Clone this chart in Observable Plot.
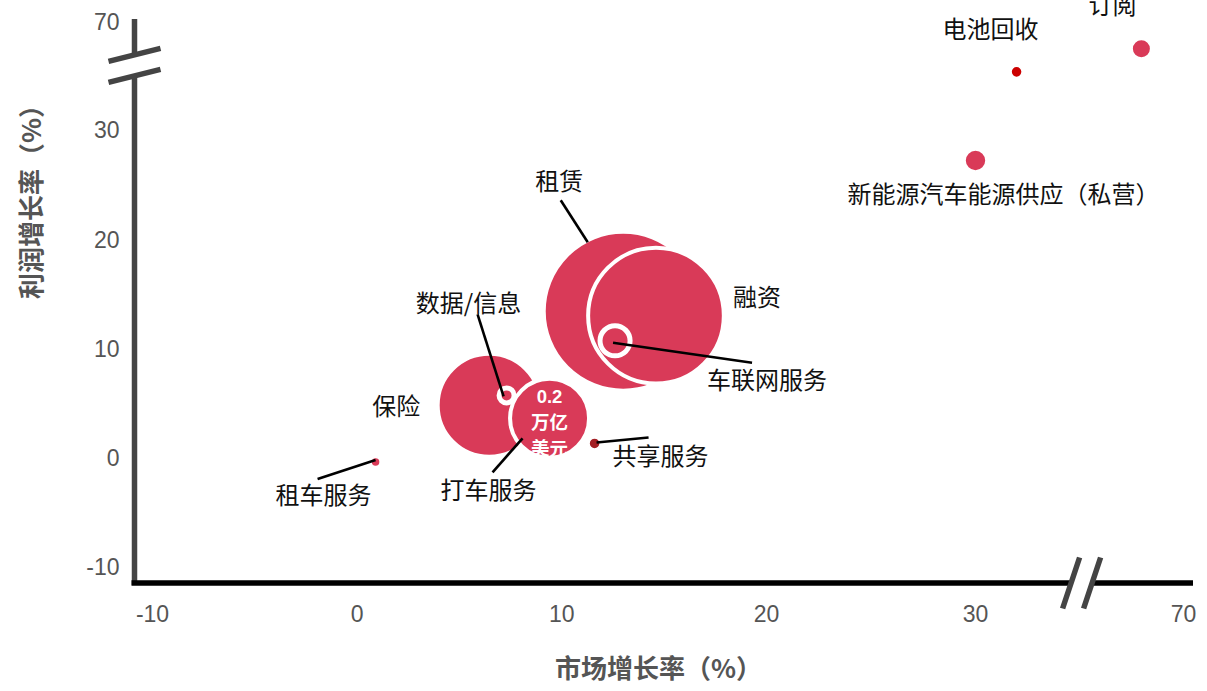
<!DOCTYPE html>
<html>
<head>
<meta charset="utf-8">
<script src="https://cdn.jsdelivr.net/npm/d3@7"></script>
<script src="https://cdn.jsdelivr.net/npm/@observablehq/plot@0.6"></script>
<style>
  body { margin: 0; background: #fff; }
  #chart svg { display: block; }
</style>
</head>
<body>
<div id="chart"></div>
<script>
// ---------------- data ----------------
const names = ["租赁", "融资", "保险", "打车服务", "车联网服务", "数据/信息", "共享服务", "租车服务", "电池回收", "订阅", "新能源汽车能源供应（私营）"];
const marketGrowth = [13.0, 14.6, 6.45, 9.4, 12.6, 7.3, 11.6, 0.9, 37.9, 61.9, 30.0];   // 市场增长率 %
const profitGrowth = [13.5, 13.1, 4.9, 3.7, 10.8, 5.8, 1.4, -0.3, 51.8, 60.3, 27.3];    // 利润增长率 %
const marketSize   = [0.81, 0.59, 0.34, 0.2, 0.029, 0.0072, 0.0039, 0.0026, 0.0039, 0.011, 0.014]; // 万亿美元
const xTicks = [-10, 0, 10, 20, 30, 70];
const yTicks = [-10, 0, 10, 20, 30, 70];
const sizeLegendValue = 0.2;
const sizeLegendText = "0.2\n万亿\n美元";
const xTitle = "市场增长率（%）";
const yTitle = "利润增长率（%）";

// ---------------- styles / layout ----------------
const RED = "#d93a58";
const fillOverride = {"共享服务": "#a31f24", "电池回收": "#cc0000"};
const strokeW = {"租赁": 4, "融资": 4, "保险": 4, "打车服务": 4, "车联网服务": 5, "数据/信息": 5};
// label offsets (px) relative to bubble centre, optional leader line [x1,y1,x2,y2] in px offsets
const labelLayout = {
  "租赁": {dx: -64, dy: -129, leader: [-62.5, -111, -35.5, -69]},
  "融资": {dx: 101, dy: -17},
  "保险": {dx: -93, dy: 2},
  "打车服务": {dx: -61, dy: 73, leader: [-57, 54, -27, 20]},
  "车联网服务": {dx: 152, dy: 41, leader: [-2, 2, 137, 22]},
  "数据/信息": {dx: -38, dy: -91, leader: [-29, -81, -3, 1]},
  "共享服务": {dx: 66, dy: 14, leader: [2, -1, 54, -6]},
  "租车服务": {dx: -52, dy: 34, leader: [-58, 17, 0, -2]},
  "电池回收": {dx: -26, dy: -42},
  "订阅": {dx: -29, dy: -42},
  "新能源汽车能源供应（私营）": {dx: 28, dy: 35}
};

const W = 1207, H = 691;
const xScale = {type: "linear", domain: [-10, 20, 30, 70], range: [152, 766, 975, 1183]};
const yScale = {type: "linear", domain: [-10, 30, 70], range: [567.5, 130.5, 22]};
const rScale = {type: "sqrt", domain: [0, sizeLegendValue], range: [0, 39.5]};

const xs = Plot.scale({x: xScale});
const ys = Plot.scale({y: yScale});
const offX = (v, d) => xs.invert(xs.apply(v) + d);
const offY = (v, d) => ys.invert(ys.apply(v) + d);

const rows = names.map((name, i) => ({name, x: marketGrowth[i], y: profitGrowth[i], size: marketSize[i]}));
const labelRows = rows.map(d => ({name: d.name, x: offX(d.x, labelLayout[d.name].dx), y: offY(d.y, labelLayout[d.name].dy)}));
const leaderRows = rows.filter(d => labelLayout[d.name].leader).map(d => {
  const [a, b, c, e] = labelLayout[d.name].leader;
  return {x1: offX(d.x, a), y1: offY(d.y, b), x2: offX(d.x, c), y2: offY(d.y, e)};
});
const legendRow = rows.filter(d => d.size === sizeLegendValue);

// axis lines with break marks
function axisLines(index, scales, values, dims) {
  const g = d3.create("svg:g");
  const x0 = dims.marginLeft, y0 = dims.height - dims.marginBottom;
  const xr = dims.width - dims.marginRight, yt = dims.marginTop;
  const bx = scales.x(50.5), by = scales.y(54);
  const gap = 10.5;
  // y axis (dark gray)
  g.append("path").attr("d", `M${x0},${yt}V${by - gap}M${x0},${by + gap}V${y0 + 2}`)
    .attr("stroke", "#444").attr("stroke-width", 5.5).attr("fill", "none");
  g.append("path").attr("d", `M${x0 - 26},${by - gap + 6.5}L${x0 + 26},${by - gap - 6.5}M${x0 - 26},${by + gap + 6.5}L${x0 + 26},${by + gap - 6.5}`)
    .attr("stroke", "#444").attr("stroke-width", 5.5).attr("fill", "none");
  // x axis (black)
  g.append("path").attr("d", `M${x0 - 3},${y0}H${bx - gap}M${bx + gap},${y0}H${xr}`)
    .attr("stroke", "#000").attr("stroke-width", 5.3).attr("fill", "none");
  g.append("path").attr("d", `M${bx - gap - 8.5},${y0 + 25.5}L${bx - gap + 8.5},${y0 - 25.5}M${bx + gap - 8.5},${y0 + 25.5}L${bx + gap + 8.5},${y0 - 25.5}`)
    .attr("stroke", "#444").attr("stroke-width", 5.5).attr("fill", "none");
  return g.node();
}

const chart = Plot.plot({
  width: W,
  height: H,
  marginLeft: 134.5,
  marginRight: 14,
  marginTop: 19,
  marginBottom: 108,
  x: {...xScale, label: null},
  y: {...yScale, label: null},
  r: rScale,
  color: {type: "identity"},
  style: {fontFamily: "'Liberation Sans', 'Noto Sans CJK SC', sans-serif", color: "#555", background: "#fff", overflow: "visible"},
  marks: [
    Plot.axisX({ticks: xTicks, tickSize: 0, tickPadding: 22, fontSize: 23, tickFormat: d => String(d), label: null}),
    Plot.axisY({ticks: yTicks, tickSize: 0, tickPadding: 15.5, fontSize: 23, tickFormat: d => String(d), label: null}),
    axisLines,
    Plot.dot(rows, {
      x: "x", y: "y", r: "size",
      fill: d => fillOverride[d.name] || RED,
      stroke: "#fff",
      strokeWidth: d => strokeW[d.name] || 1.5
    }),
    Plot.link(leaderRows, {x1: "x1", y1: "y1", x2: "x2", y2: "y2", stroke: "#000", strokeWidth: 2.6}),
    Plot.text(legendRow, {
      x: "x", y: "y", text: () => sizeLegendText, dy: 2,
      fill: "#fff", fontWeight: "bold", fontSize: 18.5, lineHeight: 1.4,
      fontFamily: "'Liberation Sans', 'Noto Sans CJK SC', sans-serif"
    }),
    Plot.text(labelRows, {
      x: "x", y: "y", text: "name",
      fill: "#111", fontSize: 24, fontFamily: "'Noto Sans CJK SC', sans-serif"
    }),
    Plot.text([xTitle], {
      frameAnchor: "bottom-left", textAnchor: "middle", dx: 658 - 134.5, dy: 94, text: d => d,
      fill: "#555", fontWeight: "bold", fontSize: 26, fontFamily: "'Noto Sans CJK SC', sans-serif"
    }),
    Plot.text([yTitle], {
      frameAnchor: "top-left", textAnchor: "middle", dx: 22 - 134.5, dy: 195 - 19, rotate: -90, text: d => d,
      fill: "#555", fontWeight: "bold", fontSize: 26, fontFamily: "'Noto Sans CJK SC', sans-serif"
    })
  ]
});

document.getElementById("chart").appendChild(chart);
</script>
</body>
</html>
